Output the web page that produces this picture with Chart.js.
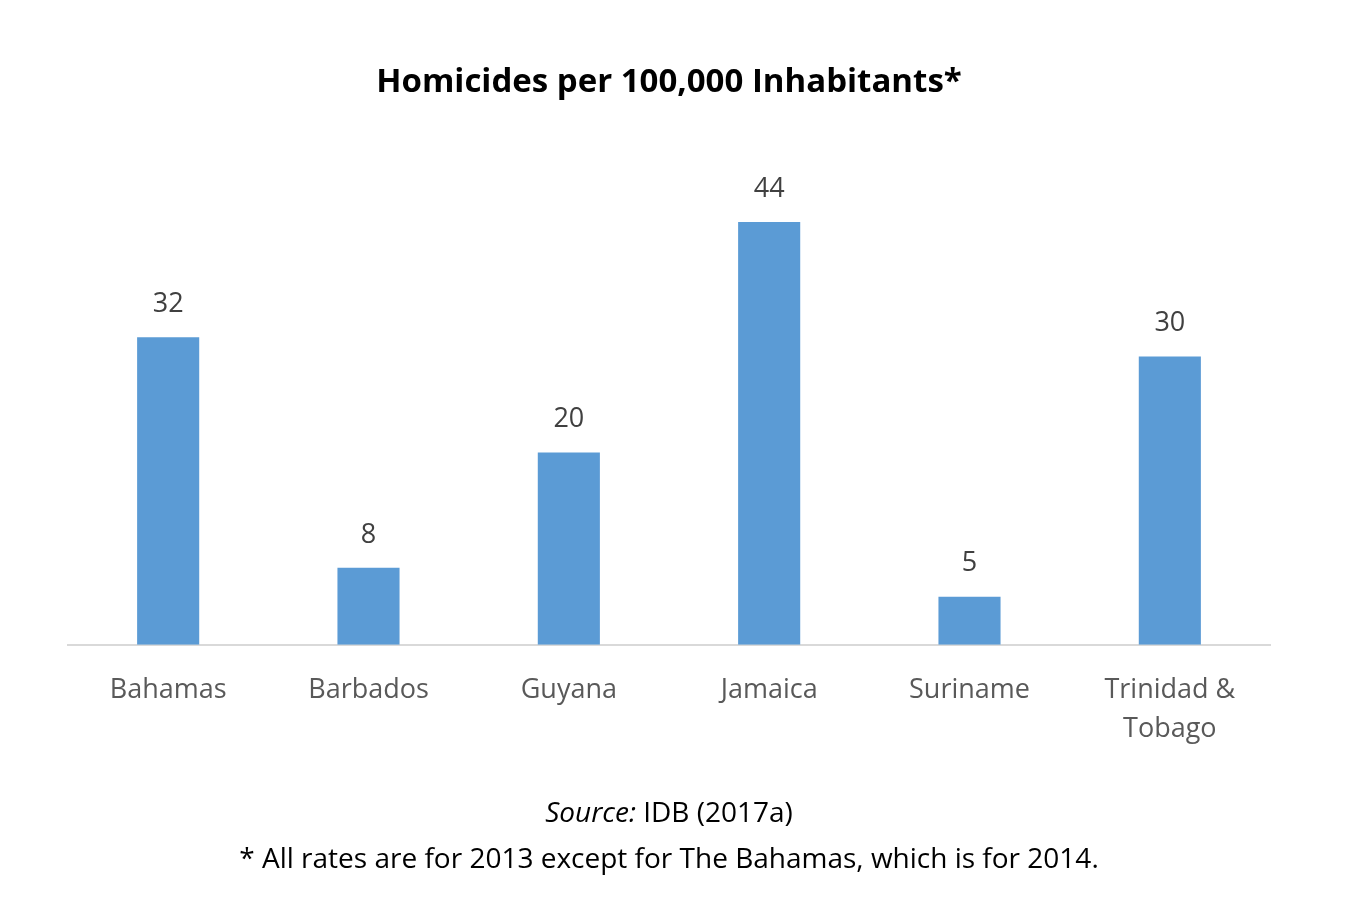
<!DOCTYPE html>
<html>
<head>
<meta charset="utf-8">
<script src="https://cdn.jsdelivr.net/npm/chart.js@4.4.0/dist/chart.umd.min.js"></script>
<style>
  body { margin: 0; background: #fff; }
  #wrap { position: relative; width: 1366px; height: 906px; }
  #notes { position: absolute; left: 68px; width: 1202px; top: 788px; text-align: center;
           font-family: "Open Sans", sans-serif; font-size: 28px; color: #000; line-height: 46px; }
</style>
</head>
<body>
<div id="wrap">
  <canvas id="homicideChart" width="1366" height="906"></canvas>
  <div id="notes">
    <div><i>Source:</i> IDB (2017a)</div>
    <div>* All rates are for 2013 except for The Bahamas, which is for 2014.</div>
  </div>
</div>
<script>
const countries = ["Bahamas", "Barbados", "Guyana", "Jamaica", "Suriname", ["Trinidad &", "Tobago"]];
const rates = [32, 8, 20, 44, 5, 30];

const valueLabels = {
  id: "valueLabels",
  afterDatasetsDraw(chart) {
    const ctx = chart.ctx;
    const meta = chart.getDatasetMeta(0);
    ctx.save();
    ctx.font = "27px 'Open Sans', sans-serif";
    ctx.fillStyle = "#404040";
    ctx.textAlign = "center";
    ctx.textBaseline = "middle";
    meta.data.forEach((bar, i) => {
      ctx.fillText(rates[i], bar.x, bar.y - 33);
    });
    ctx.restore();
  }
};

const ctx = document.getElementById("homicideChart").getContext("2d");
new Chart(ctx, {
  type: "bar",
  data: {
    labels: countries,
    datasets: [{
      label: "Homicides",
      data: rates,
      backgroundColor: "#5b9bd5",
      barPercentage: 0.62,
      categoryPercentage: 0.5
    }]
  },
  options: {
    responsive: false,
    animation: false,
    layout: { padding: { left: 68, right: 96, top: 0, bottom: 131 } },
    plugins: {
      legend: { display: false },
      tooltip: { enabled: false },
      title: {
        display: true,
        text: "Homicides per 100,000 Inhabitants*",
        color: "#000",
        font: { family: "'Open Sans', sans-serif", size: 33, weight: "bold", lineHeight: 1.2 },
        padding: { top: 63, bottom: 81 }
      }
    },
    scales: {
      x: {
        grid: { display: false, drawTicks: false },
        border: { color: "#d9d9d9", width: 2 },
        ticks: {
          color: "#595959",
          padding: 26,
          font: { family: "'Open Sans', sans-serif", size: 27, lineHeight: 1.45 },
          maxRotation: 0
        }
      },
      y: {
        display: false,
        min: 0,
        max: 48
      }
    }
  },
  plugins: [valueLabels]
});
</script>
</body>
</html>
